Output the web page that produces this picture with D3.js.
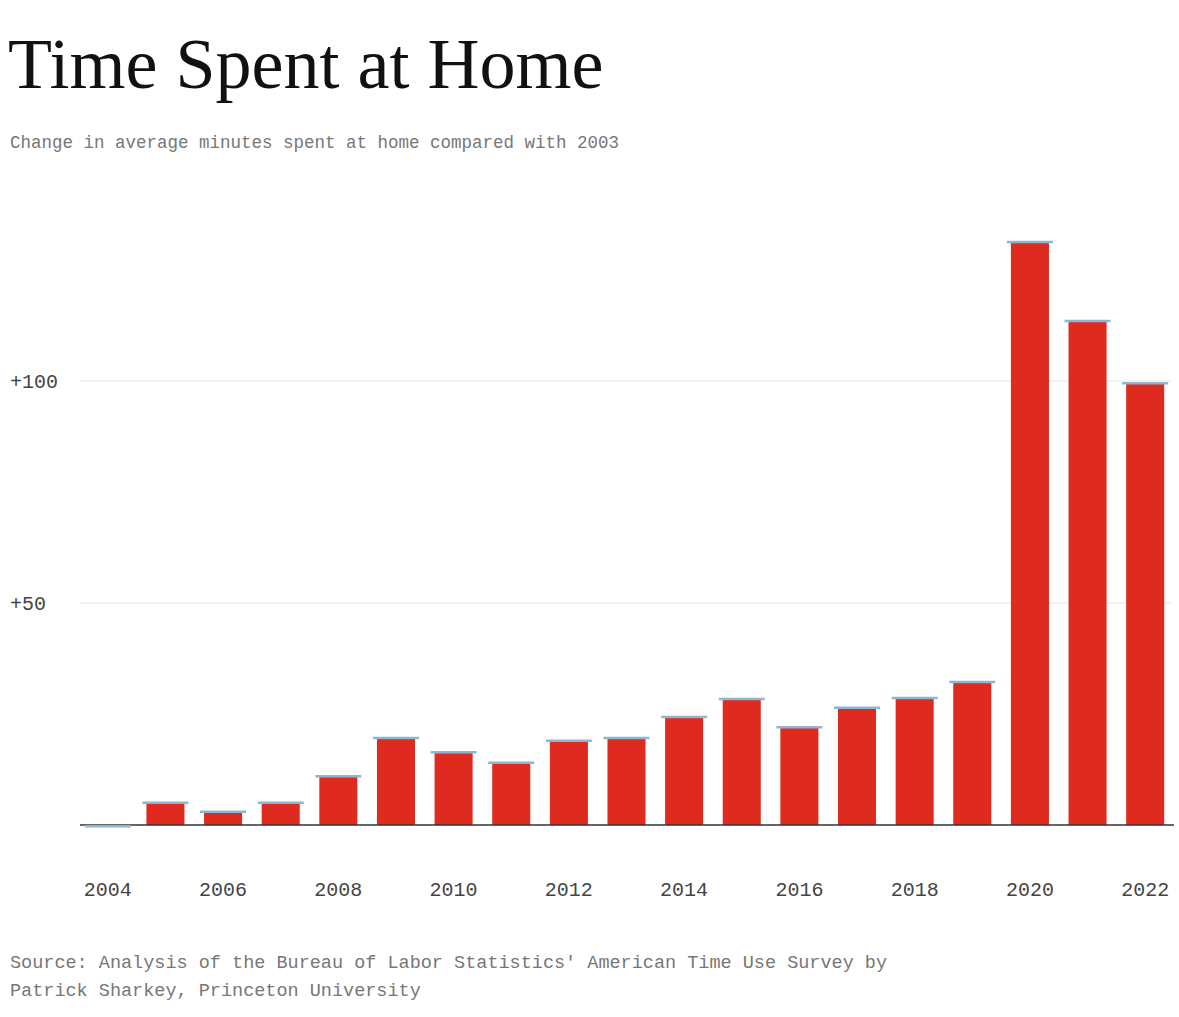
<!DOCTYPE html>
<html>
<head>
<meta charset="utf-8">
<script src="https://cdn.jsdelivr.net/npm/d3@7"></script>
<style>
body { margin: 0; background: #fff; }
</style>
</head>
<body>
<div id="chart"></div>
<script>
// Data
const years = [2004, 2005, 2006, 2007, 2008, 2009, 2010, 2011, 2012, 2013, 2014, 2015, 2016, 2017, 2018, 2019, 2020, 2021, 2022]
const minutes = [-0.3, 5, 3, 5, 11, 19.6, 16.4, 14, 19, 19.6, 24.3, 28.4, 22, 26.4, 28.6, 32.2, 131.3, 113.5, 99.5]
const yTicks = [50, 100]
const xTicks = [2004, 2006, 2008, 2010, 2012, 2014, 2016, 2018, 2020, 2022]

const width = 1179, height = 1017
const mono = "'Liberation Mono', 'DejaVu Sans Mono', monospace"

const svg = d3.select('#chart').append('svg')
    .attr('width', width)
    .attr('height', height)

svg.append('text')
    .attr('x', 8).attr('y', 88)
    .attr('font-family', "'Liberation Serif', serif")
    .attr('font-size', 72)
    .attr('fill', '#111')
    .text('Time Spent at Home')

svg.append('text')
    .attr('x', 10).attr('y', 148)
    .attr('font-family', mono)
    .attr('font-size', 17.5)
    .attr('fill', '#777')
    .text('Change in average minutes spent at home compared with 2003')

let x = d3.scaleBand()
    .domain(years)
    .range([79, 1174])
    .paddingInner(0.34)
    .paddingOuter(0.17)

let y = d3.scaleLinear()
    .domain([0, 100])
    .range([825, 381])

// gridlines
svg.selectAll('.grid')
    .data(yTicks)
    .enter()
    .append('line')
    .attr('x1', 80).attr('x2', 1172)
    .attr('y1', d => y(d)).attr('y2', d => y(d))
    .attr('stroke', '#e6e6e6')
    .attr('stroke-width', 1.2)

svg.selectAll('.ylab')
    .data(yTicks)
    .enter()
    .append('text')
    .attr('x', 10)
    .attr('y', d => y(d) + 7)
    .attr('font-family', mono)
    .attr('font-size', 20)
    .attr('fill', '#444')
    .text(d => '+' + d)

// bars
let bars = svg.selectAll('.bar')
    .data(years)
    .enter()

bars.append('rect')
    .attr('x', d => x(d))
    .attr('width', x.bandwidth())
    .attr('y', (d, i) => y(Math.max(0, minutes[i])))
    .attr('height', (d, i) => Math.abs(y(minutes[i]) - y(0)))
    .attr('fill', '#df2a1f')

// baseline
svg.append('line')
    .attr('x1', 80).attr('x2', 1174)
    .attr('y1', y(0)).attr('y2', y(0))
    .attr('stroke', '#333')
    .attr('stroke-width', 1.5)

// light blue caps on each bar
bars.append('line')
    .attr('x1', d => x(d) - 4)
    .attr('x2', d => x(d) + x.bandwidth() + 4)
    .attr('y1', (d, i) => y(minutes[i]))
    .attr('y2', (d, i) => y(minutes[i]))
    .attr('stroke', '#8fb6d0')
    .attr('stroke-width', 2.5)

svg.selectAll('.xlab')
    .data(xTicks)
    .enter()
    .append('text')
    .attr('x', d => x(d) + x.bandwidth() / 2)
    .attr('y', 896)
    .attr('text-anchor', 'middle')
    .attr('font-family', mono)
    .attr('font-size', 20)
    .attr('fill', '#444')
    .text(d => d)

svg.append('text')
    .attr('x', 10).attr('y', 968)
    .attr('font-family', mono)
    .attr('font-size', 18.5)
    .attr('fill', '#777')
    .text("Source: Analysis of the Bureau of Labor Statistics' American Time Use Survey by")

svg.append('text')
    .attr('x', 10).attr('y', 996)
    .attr('font-family', mono)
    .attr('font-size', 18.5)
    .attr('fill', '#777')
    .text('Patrick Sharkey, Princeton University')
</script>
</body>
</html>
